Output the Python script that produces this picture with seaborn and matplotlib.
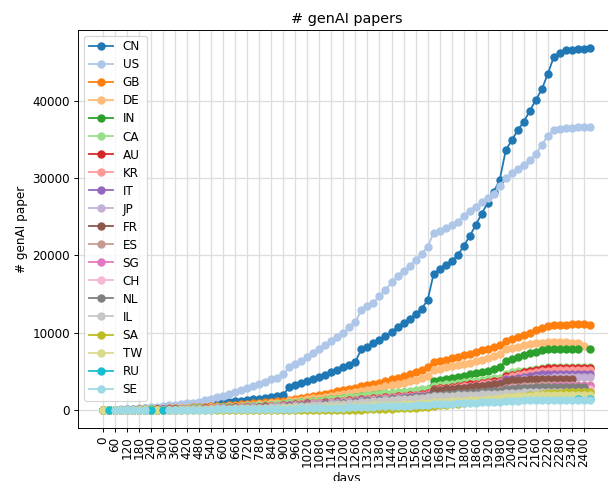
import numpy as np
import pandas as pd
import matplotlib
matplotlib.use("Agg")
import matplotlib.pyplot as plt
import seaborn as sns

nan = np.nan

# sampling grid: one value every 30 days
days = np.arange(0, 2431, 30)

countries = ["CN", "US", "GB", "DE", "IN", "CA", "AU", "KR", "IT", "JP",
             "FR", "ES", "SG", "CH", "NL", "IL", "SA", "TW", "RU", "SE"]

CN = [0, 20, 40, 60, 90, 120, 160, 200, 250, 300,
      360, 420, 480, 540, 600, 660, 730, 800, 870, 940,
      1010, 1080, 1150, 1220, 1300, 1380, 1460, 1550, 1650, 1780,
      1950, 3000, 3250, 3450, 3700, 3950, 4250, 4550, 4850, 5150,
      5500, 5850, 6250, 7900, 8200, 8600, 9050, 9600, 10100, 10700,
      11250, 11800, 12400, 13100, 14200, 17600, 18200, 18800, 19300, 20000,
      21200, 22500, 23900, 25400, 26800, 28200, 29800, 33600, 34900, 36200,
      37300, 38700, 40100, 41500, 43500, 45700, 46200, 46500, 46600, 46700,
      46750, 46850]
US = [0, 30, 60, 100, 140, 190, 240, 300, 360, 430,
      500, 580, 660, 750, 850, 950, 1080, 1250, 1450, 1650,
      1850, 2050, 2300, 2550, 2800, 3050, 3350, 3650, 3950, 4200,
      4600, 5500, 5900, 6400, 6900, 7350, 7900, 8450, 8950, 9450,
      10000, 10700, 11400, 12900, 13400, 13900, 14700, 15500, 16500, 17300,
      18000, 18600, 19400, 20200, 21100, 22900, 23200, 23500, 23900, 24300,
      25100, 25800, 26300, 26900, 27400, 28000, 29000, 30000, 30600, 31200,
      31700, 32300, 33100, 34300, 35500, 36200, 36400, 36500, 36500, 36550,
      36550, 36600]
GB = [0, 10, 20, 30, 45, 60, 80, 100, 120, 140,
      170, 200, 230, 260, 300, 340, 380, 420, 470, 520,
      570, 620, 680, 740, 800, 860, 920, 990, 1060, 1130,
      1200, 1350, 1450, 1570, 1700, 1800, 1950, 2100, 2250, 2400,
      2550, 2700, 2850, 3050, 3200, 3350, 3550, 3750, 3950, 4150,
      4350, 4600, 4900, 5200, 5500, 6200, 6350, 6500, 6700, 6900,
      7100, 7300, 7500, 7750, 7950, 8200, 8400, 8900, 9200, 9500,
      9750, 10000, 10300, 10600, 10850, 11000, 11050, 11050, 11100, 11100,
      11100, 11050]
DE = [0, 5, 15, 25, 35, 45, 60, 75, 90, 110,
      130, 150, 175, 200, 230, 260, 290, 320, 360, 400,
      440, 480, 520, 570, 620, 670, 720, 780, 840, 900,
      960, 1100, 1200, 1300, 1400, 1500, 1600, 1700, 1820, 1940,
      2060, 2180, 2300, 2500, 2620, 2750, 2900, 3050, 3200, 3350,
      3500, 3700, 3900, 4150, 4400, 5200, 5350, 5500, 5650, 5800,
      5950, 6100, 6300, 6500, 6700, 6950, 7200, 7900, 8050, 8200,
      8350, 8500, 8600, 8700, 8750, 8750, 8750, 8750, 8700, 8700,
      8300, nan]
IN = [0, 5, 10, 20, 30, 40, 50, 60, 75, 90,
      105, 120, 140, 160, 180, 200, 225, 250, 280, 310,
      340, 370, 400, 440, 480, 520, 560, 600, 650, 700,
      750, 850, 920, 990, 1060, 1130, 1200, 1280, 1360, 1440,
      1520, 1600, 1680, 1800, 1870, 1940, 2010, 2080, 2150, 2220,
      2300, 2380, 2460, 2550, 2650, 3700, 3850, 4000, 4150, 4300,
      4450, 4600, 4750, 4900, 5100, 5300, 5500, 6400, 6650, 6900,
      7100, 7350, 7550, 7700, 7850, 7900, 7950, 7950, 7950, 7950,
      nan, 7950]
CA = [0, 5, 10, 20, 30, 40, 50, 65, 80, 95,
      110, 130, 150, 170, 190, 215, 240, 270, 300, 330,
      360, 390, 420, 460, 500, 540, 580, 620, 670, 720,
      770, 870, 940, 1010, 1080, 1150, 1220, 1300, 1380, 1460,
      1540, 1620, 1700, 1820, 1900, 1980, 2060, 2140, 2220, 2300,
      2380, 2460, 2550, 2650, 2750, 3100, 3200, 3300, 3400, 3500,
      3600, 3700, 3800, 3900, 4000, 4100, 4200, 4700, 4850, 5000,
      5100, 5200, 5300, 5400, 5500, 5550, 5600, 5600, 5600, 5600,
      5600, 5600]
AU = [0, 5, 10, 15, 20, 30, 40, 50, 60, 70,
      80, 95, 110, 125, 140, 160, 180, 200, 225, 250,
      275, 300, 330, 360, 390, 420, 450, 490, 530, 570,
      610, 700, 750, 800, 850, 900, 950, 1000, 1060, 1120,
      1180, 1240, 1300, 1420, 1480, 1540, 1600, 1660, 1720, 1780,
      1850, 1920, 2000, 2080, 2160, 2700, 2800, 2900, 3000, 3100,
      3200, 3300, 3400, 3500, 3600, 3700, 3800, 4400, 4550, 4700,
      4850, 5000, 5150, 5300, 5400, 5450, 5450, 5450, 5450, 5450,
      5450, 5450]
KR = [0, 5, 10, 15, 20, 25, 30, 40, 50, 60,
      70, 80, 95, 110, 125, 140, 160, 180, 200, 220,
      245, 270, 300, 330, 360, 390, 420, 450, 490, 530,
      570, 650, 700, 750, 800, 850, 900, 950, 1000, 1060,
      1120, 1180, 1240, 1350, 1410, 1470, 1530, 1590, 1650, 1710,
      1780, 1850, 1920, 2000, 2080, 2550, 2650, 2750, 2850, 2950,
      3050, 3150, 3250, 3350, 3450, 3550, 3650, 4200, 4350, 4500,
      4650, 4800, 4900, 5000, 5100, 5150, 5150, 5150, 5150, 5150,
      5150, 5150]
IT = [0, 5, 10, 15, 20, 25, 30, 35, 45, 55,
      65, 75, 85, 100, 115, 130, 145, 165, 185, 205,
      225, 250, 275, 300, 330, 360, 390, 420, 450, 490,
      530, 600, 650, 700, 740, 780, 830, 880, 930, 980,
      1030, 1080, 1140, 1240, 1300, 1350, 1410, 1470, 1520, 1580,
      1640, 1700, 1770, 1840, 1910, 2350, 2450, 2550, 2650, 2750,
      2850, 2950, 3050, 3150, 3250, 3350, 3450, 3950, 4050, 4200,
      4300, 4400, 4500, 4600, 4650, 4700, 4700, 4700, 4700, 4700,
      4700, 4700]
JP = [0, 5, 10, 15, 20, 25, 30, 35, 40, 50,
      60, 70, 80, 95, 110, 125, 140, 155, 175, 195,
      215, 240, 265, 290, 315, 340, 370, 400, 430, 460,
      490, 560, 600, 640, 680, 720, 770, 820, 870, 920,
      970, 1020, 1070, 1160, 1210, 1260, 1310, 1360, 1410, 1460,
      1520, 1580, 1640, 1700, 1770, 2150, 2250, 2350, 2450, 2550,
      2650, 2750, 2850, 2950, 3050, 3150, 3250, 3650, 3750, 3850,
      3950, 4050, 4100, 4150, 4200, 4250, 4250, 4300, 4300, 4300,
      4300, 4300]
FR = [0, 5, 10, 15, 20, 25, 30, 35, 40, 45,
      55, 65, 75, 85, 95, 110, 125, 140, 155, 170,
      190, 210, 230, 250, 275, 300, 325, 350, 380, 410,
      440, 500, 540, 580, 620, 660, 700, 740, 780, 830,
      880, 930, 980, 1080, 1130, 1180, 1240, 1300, 1360, 1420,
      1480, 1550, 1620, 1700, 1780, 2550, 2620, 2690, 2760, 2830,
      2900, 2980, 3060, 3140, 3220, 3300, 3380, 3800, 3850, 3900,
      3900, 3950, 3950, 3950, 3950, 3950, 3950, 3950, 3950, nan,
      nan, nan]
ES = [0, 3, 6, 10, 14, 18, 22, 27, 32, 38,
      44, 50, 58, 66, 75, 85, 95, 105, 120, 135,
      150, 165, 180, 200, 220, 240, 260, 285, 310, 335,
      360, 410, 440, 470, 500, 530, 565, 600, 635, 670,
      710, 750, 790, 870, 910, 950, 990, 1040, 1090, 1140,
      1190, 1240, 1300, 1360, 1420, 1750, 1820, 1890, 1960, 2030,
      2100, 2170, 2240, 2310, 2380, 2450, 2520, 2850, 2920, 2990,
      3050, 3100, 3150, 3200, 3200, 3250, 3250, 3250, 3250, 3250,
      3250, 3250]
SG = [0, 3, 6, 10, 14, 18, 22, 26, 30, 35,
      40, 46, 52, 60, 68, 76, 85, 95, 105, 118,
      130, 145, 160, 175, 190, 210, 230, 250, 270, 295,
      320, 370, 400, 430, 460, 490, 520, 550, 585, 620,
      655, 690, 730, 800, 840, 880, 920, 960, 1000, 1050,
      1100, 1150, 1200, 1250, 1310, 1600, 1670, 1740, 1810, 1880,
      1950, 2020, 2090, 2160, 2230, 2300, 2370, 2650, 2720, 2790,
      2850, 2900, 2950, 3000, 3000, 3050, 3050, 3050, 3050, 3050,
      3050, 3050]
CH = [0, 3, 6, 9, 12, 15, 19, 23, 27, 31,
      36, 41, 47, 53, 60, 67, 75, 84, 93, 103,
      115, 127, 140, 155, 170, 185, 200, 220, 240, 260,
      280, 320, 345, 370, 400, 430, 460, 490, 520, 550,
      580, 610, 640, 700, 730, 770, 810, 850, 890, 930,
      970, 1010, 1060, 1110, 1160, 1420, 1480, 1540, 1600, 1660,
      1720, 1780, 1840, 1900, 1960, 2020, 2080, 2330, 2390, 2450,
      2500, 2550, 2600, 2650, 2700, 2700, 2750, 2750, 2750, 2750,
      2750, 2750]
NL = [0, 3, 6, 10, 14, 18, 23, 28, 34, 40,
      47, 55, 63, 72, 82, 93, 105, 118, 132, 147,
      163, 180, 198, 218, 240, 262, 285, 310, 336, 363,
      390, 440, 475, 510, 550, 590, 630, 675, 720, 770,
      820, 870, 920, 1050, 1110, 1170, 1230, 1300, 1370, 1440,
      1510, 1580, 1650, 1720, 1780, 1950, 2000, 2050, 2100, 2150,
      2200, 2250, 2300, 2350, 2400, 2450, 2500, 2700, 2750, 2800,
      2850, 2900, 2950, 2950, 3000, 3000, 3000, 3000, 3000, 3000,
      3000, nan]
IL = [0, 3, 6, 9, 12, 16, 20, 25, 30, 36,
      42, 49, 57, 66, 76, 87, 99, 112, 126, 141,
      157, 174, 192, 212, 233, 255, 278, 302, 328, 355,
      383, 430, 465, 500, 540, 580, 620, 665, 710, 755,
      800, 850, 900, 1000, 1060, 1120, 1180, 1240, 1300, 1360,
      1420, 1480, 1540, 1600, 1660, 1780, 1810, 1840, 1870, 1900,
      1930, 1960, 1990, 2020, 2050, 2080, 2110, 2200, 2230, 2260,
      2280, 2300, 2320, 2340, 2350, 2350, 2350, 2350, 2350, 2350,
      2350, 2350]
SA = [0, 0, 0, 0, 0, 0, 0, 0, 0, 0,
      0, 0, 0, 0, 0, 0, 0, 0, 0, 0,
      0, 0, 0, 0, 0, 0, 0, 0, 0, 0,
      0, 0, 0, 0, 0, 0, 0, 0, 0, 5,
      10, 20, 30, 50, 70, 90, 110, 140, 170, 200,
      240, 280, 320, 370, 420, 550, 620, 690, 760, 830,
      900, 980, 1060, 1140, 1220, 1300, 1380, 1550, 1640, 1730,
      1820, 1910, 2000, 2080, 2150, 2200, 2250, 2280, 2300, 2300,
      2300, 2300]
TW = [0, 2, 4, 6, 8, 10, 12, 15, 18, 21,
      24, 28, 32, 36, 41, 46, 52, 58, 65, 72,
      80, 88, 97, 107, 117, 128, 140, 152, 165, 178,
      192, 220, 240, 260, 280, 300, 320, 345, 370, 395,
      420, 445, 470, 520, 550, 580, 610, 640, 670, 700,
      735, 770, 805, 840, 880, 1000, 1040, 1080, 1120, 1160,
      1200, 1250, 1300, 1350, 1400, 1450, 1500, 1650, 1700, 1750,
      1800, 1850, 1900, 1950, 1980, 2000, 2000, 2000, 2000, 2000,
      2000, 2000]
RU = [nan, 0, nan, nan, nan, nan, nan, nan, 20, nan,
      30, nan, nan, nan, nan, nan, nan, nan, nan, nan,
      nan, nan, nan, nan, nan, nan, nan, nan, nan, nan,
      nan, nan, nan, nan, nan, nan, nan, nan, nan, nan,
      nan, nan, nan, nan, nan, nan, nan, nan, nan, nan,
      nan, nan, nan, nan, nan, nan, nan, nan, nan, nan,
      nan, nan, nan, nan, nan, nan, nan, nan, nan, nan,
      nan, nan, nan, nan, nan, nan, nan, nan, nan, 1450,
      nan, 1450]
SE = [nan, nan, 4, 6, 8, 10, 12, 14, nan, nan,
      nan, 26, 30, 34, 38, 42, 47, 52, 58, 64,
      70, 77, 84, 92, 100, 108, 117, 126, 136, 146,
      157, 175, 190, 205, 220, 235, 250, 265, 280, 300,
      320, 340, 360, 400, 420, 440, 460, 480, 500, 525,
      550, 575, 600, 625, 650, 730, 760, 790, 820, 850,
      880, 910, 940, 970, 1000, 1030, 1060, 1150, 1180, 1210,
      1240, 1260, 1280, 1300, 1310, 1320, 1330, 1330, 1330, 1330,
      1330, 1330]

series = [CN, US, GB, DE, IN, CA, AU, KR, IT, JP,
          FR, ES, SG, CH, NL, IL, SA, TW, RU, SE]

wide = pd.DataFrame(dict(zip(countries, series)), index=days, dtype=float)
wide.index.name = "days"

palette = sns.color_palette("tab20", len(countries))

fig = plt.figure(figsize=(608 / 86, 481 / 86), dpi=86)
ax = fig.add_axes([0.1291, 0.110, 0.8813, 0.8283])
ax.set_axisbelow(True)
ax.grid(True, color="#dedede", linewidth=1.1)


def stretches(col):
    """Split a series into runs of consecutive non-missing values."""
    valid = col.notna().to_numpy()
    runs, start = [], None
    for i, ok in enumerate(valid):
        if ok and start is None:
            start = i
        if not ok and start is not None:
            runs.append(col.iloc[start:i])
            start = None
    if start is not None:
        runs.append(col.iloc[start:])
    return runs


for name, color in zip(countries, palette):
    for k, run in enumerate(stretches(wide[name])):
        seg = run.reset_index()
        sns.lineplot(data=seg, x="days", y=name, ax=ax, color=color,
                     marker="o", markersize=6, markeredgecolor=color,
                     markeredgewidth=1.0, linewidth=1.5,
                     label=name if k == 0 else "_nolegend_", legend=False)

ax.set_xticks(np.arange(0, 2401, 60))
ax.tick_params(axis="x", labelrotation=90)
ax.set_yticks([0, 10000, 20000, 30000, 40000])
ax.set_title("# genAI papers")
ax.set_xlabel("days")
ax.set_ylabel("# genAI paper")

handles, labels = ax.get_legend_handles_labels()
ax.legend(handles, labels, loc="upper left", labelspacing=0.42)

fig.savefig("out.png", dpi=86)
